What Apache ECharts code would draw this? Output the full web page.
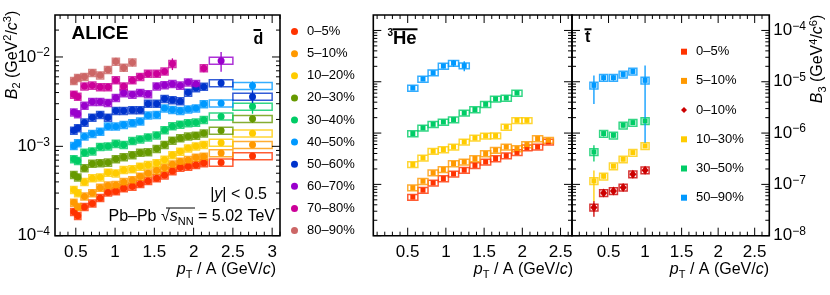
<!DOCTYPE html>
<html><head><meta charset="utf-8">
<script src="https://cdn.jsdelivr.net/npm/echarts@6/dist/echarts.min.js"></script>
<style>html,body{margin:0;padding:0;background:#fff}#c{width:830px;height:295px}</style>
</head><body><div id="c"></div>
<script>
// ---------------- DATA ----------------
// deuteron B2 vs pT/A (left panel)
const dCentrality = ['0–5%','5–10%','10–20%','20–30%','30–40%','40–50%','50–60%','60–70%','70–80%','80–90%'];
const dPt = [0.475,0.525,0.61,0.71,0.81,0.91,1.01,1.11,1.22,1.32,1.42,1.53,1.63,1.73,1.83,1.93,2.03,2.13,2.35,2.75];
const dPtHalfWidth = [0.04,0.04,0.045,0.045,0.045,0.045,0.045,0.045,0.045,0.045,0.045,0.045,0.045,0.045,0.045,0.045,0.045,0.045,0.15,0.25];
const dB2_0_5   = [1.85e-4,1.67e-4,2.1e-4,2.3e-4,2.65e-4,3.05e-4,3.15e-4,3.4e-4,3.55e-4,3.8e-4,4.1e-4,4.4e-4,4.75e-4,5.3e-4,5.8e-4,5.95e-4,6.2e-4,6.5e-4,6.6e-4,7.8e-4];
const dB2_5_10  = [2.35e-4,2.1e-4,2.75e-4,3.0e-4,3.45e-4,3.65e-4,3.7e-4,4.0e-4,4.2e-4,4.6e-4,5.0e-4,5.35e-4,5.75e-4,6.3e-4,6.75e-4,7.05e-4,7.5e-4,7.7e-4,8.4e-4,1.04e-3];
const dB2_10_20 = [3.26e-4,3.0e-4,4.0e-4,4.4e-4,4.5e-4,5.1e-4,5.0e-4,5.45e-4,5.55e-4,5.95e-4,6.2e-4,6.5e-4,7.1e-4,8.0e-4,8.75e-4,9.5e-4,1.0e-3,1.04e-3,1.1e-3,1.4e-3];
const dB2_20_30 = [4.8e-4,4.5e-4,5.7e-4,6.4e-4,6.5e-4,6.6e-4,7.2e-4,7.6e-4,8.0e-4,8.5e-4,8.6e-4,9.4e-4,1.04e-3,1.16e-3,1.235e-3,1.29e-3,1.32e-3,1.4e-3,1.5e-3,2.03e-3];
const dB2_30_40 = [7.2e-4,6.9e-4,8.5e-4,8.8e-4,9.9e-4,1.0e-3,1.07e-3,1.04e-3,1.15e-3,1.2e-3,1.26e-3,1.33e-3,1.52e-3,1.68e-3,1.75e-3,1.82e-3,1.85e-3,1.98e-3,2.16e-3,2.79e-3];
const dB2_40_50 = [1.01e-3,1.09e-3,1.29e-3,1.38e-3,1.46e-3,1.67e-3,1.67e-3,1.74e-3,1.82e-3,1.9e-3,2.22e-3,2.25e-3,2.66e-3,2.56e-3,2.5e-3,2.6e-3,2.66e-3,2.97e-3,3.03e-3,4.76e-3];
const dB2_50_60 = [1.5e-3,1.6e-3,1.85e-3,2.1e-3,2.25e-3,2.1e-3,2.5e-3,2.5e-3,2.55e-3,2.55e-3,3.0e-3,3.0e-3,3.4e-3,3.3e-3,3.2e-3,4.0e-3,4.5e-3,4.65e-3,5.1e-3,3.6e-3];
const dB2_60_70 = [2.4e-3,2.3e-3,2.85e-3,3.15e-3,3.15e-3,3.07e-3,3.5e-3,3.95e-3,3.8e-3,3.97e-3,3.85e-3,4.7e-3,4.85e-3,5.0e-3,4.8e-3,5.2e-3,5.0e-3,null,9.1e-3,null];
const dB2_70_80 = [3.8e-3,3.6e-3,4.7e-3,4.8e-3,4.6e-3,4.6e-3,5.5e-3,4.7e-3,5.5e-3,6.0e-3,6.5e-3,6.5e-3,6.9e-3,8.4e-3,null,null,null,7.5e-3,null,null];
const dB2_80_90 = [5.4e-3,5.85e-3,6.0e-3,6.65e-3,6.25e-3,7.2e-3,8.9e-3,7.6e-3,8.7e-3];
// relative statistical uncertainties
const dStat_0_5   = [.03,.03,.02,.02,.02,.02,.02,.02,.02,.02,.02,.02,.02,.02,.02,.02,.02,.03,.03,.05];
const dStat_5_10  = [.03,.03,.02,.02,.02,.02,.02,.02,.02,.02,.02,.02,.02,.02,.02,.02,.02,.03,.03,.05];
const dStat_10_20 = [.03,.03,.02,.02,.02,.02,.02,.02,.02,.02,.02,.02,.02,.02,.02,.02,.03,.03,.04,.05];
const dStat_20_30 = [.03,.03,.02,.02,.02,.02,.02,.02,.02,.02,.02,.02,.02,.02,.02,.03,.03,.03,.04,.10];
const dStat_30_40 = [.03,.03,.02,.02,.02,.02,.02,.02,.02,.02,.02,.02,.03,.03,.03,.03,.03,.04,.06,.17];
const dStat_40_50 = [.03,.03,.02,.02,.02,.02,.02,.02,.02,.03,.03,.03,.03,.03,.03,.03,.03,.04,.05,.12];
const dStat_50_60 = [.03,.03,.03,.03,.03,.03,.03,.03,.03,.03,.03,.03,.03,.03,.04,.04,.05,.05,.10,.17];
const dStat_60_70 = [.03,.03,.03,.03,.03,.03,.03,.03,.03,.03,.03,.04,.04,.04,.05,.06,.06,null,.25,null];
const dStat_70_80 = [.04,.04,.04,.04,.04,.04,.04,.04,.04,.04,.05,.05,.07,.15,null,null,null,.10,null,null];
const dStat_80_90 = [.05,.05,.05,.06,.06,.08,.10,.10,.10];
const dSystRel = 0.09;

// 3He-bar B3 (middle panel)
const heCentrality = ['0–5%','5–10%','10–30%','30–50%','50–90%'];
const hePt = [0.567,0.7,0.833,0.967,1.1,1.24,1.38,1.52,1.65,1.79,1.93,2.06,2.2,2.34];
const heBinHalfWidth = 0.066;
const heB3_0_5   = [5.64e-8,7.71e-8,1.07e-7,1.30e-7,1.60e-7,1.89e-7,2.34e-7,2.74e-7,3.19e-7,3.62e-7,4.19e-7,5.18e-7,5.36e-7,6.71e-7];
const heB3_5_10  = [8.63e-8,1.15e-7,1.69e-7,1.95e-7,2.55e-7,2.74e-7,3.19e-7,3.99e-7,4.63e-7,5.36e-7,4.99e-7,5.97e-7,7.82e-7,7.24e-7];
const heB3_10_30 = [2.44e-7,3.28e-7,4.42e-7,4.78e-7,5.36e-7,6.71e-7,8.03e-7,8.78e-7,8.9e-7,1.31e-6,1.77e-6,1.77e-6];
const heB3_30_50 = [9.78e-7,1.26e-6,1.48e-6,1.64e-6,1.83e-6,2.46e-6,2.87e-6,3.63e-6,4.61e-6,4.82e-6,6.03e-6];
const heB3_50_90 = [7.54e-6,1.13e-5,1.5e-5,2.02e-5,2.31e-5,2.06e-5];
const heStat_0_5   = [.03,.03,.03,.03,.03,.03,.03,.03,.03,.03,.03,.04,.05,.08];
const heStat_5_10  = [.03,.03,.03,.03,.03,.03,.03,.03,.03,.03,.03,.04,.05,.12];
const heStat_10_30 = [.03,.03,.03,.03,.03,.03,.03,.03,.03,.03,.06,.10];
const heStat_30_50 = [.03,.03,.03,.03,.03,.03,.03,.03,.03,.03,.06];
const heStat_50_90 = [.04,.05,.06,.10,.15,.22];
const heSystRel = 0.13;

// triton-bar B3 (right panel)
const tPt = [0.3,0.433,0.567,0.7,0.833,1.0];
const tBinHalfWidth = 0.055;
const tB3_0_10  = [3.55e-8,6.83e-8,7.47e-8,8.71e-8,1.58e-7,1.89e-7];
const tB3_10_30 = [1.17e-7,1.44e-7,2.26e-7,3.09e-7,4.17e-7,5.61e-7];
const tB3_30_50 = [4.29e-7,9.78e-7,9.06e-7,1.42e-6,1.60e-6,1.72e-6];
const tB3_50_90 = [8.5e-6,1.2e-5,1.2e-5,1.39e-5,1.59e-5,1.065e-5];
const tStat_0_10  = [1.2e-8,7e-9,7e-9,7e-9,1.5e-8,1.5e-8];
const tStat_10_30 = [7e-8,1.5e-8,2e-8,2.5e-8,3e-8,4e-8];
const tStat_30_50 = [1.5e-7,1.2e-7,1e-7,1.3e-7,1.5e-7,1.5e-7];
const tStat_50_90 = [4.8e-6,1.6e-6,1.5e-6,1.6e-6,1.8e-6,1.0e-5];
const tSystRel = 0.15;

// axis ticks
const dTickX = [0.5,1,1.5,2,2.5,3];
const heTickX = [0.5,1,1.5,2,2.5];
const tTickX = [0.5,1,1.5,2,2.5];

// ---------------- STYLE ----------------
const FONT = "'Liberation Sans', Arial, Helvetica, sans-serif";
const dColors = ['#ff3300','#ff9900','#ffcc00','#669900','#00cc66','#0099ff','#0033cc','#9900cc','#cc0099','#cc6666'];
const heColors = ['#ff3300','#ff9900','#ffcc00','#00cc66','#0099ff'];
const tColors = ['#cc0000','#ffcc00','#00cc66','#0099ff'];
const tCentrality = ['0–10%','10–30%','30–50%','50–90%'];

const dVals = [dB2_0_5,dB2_5_10,dB2_10_20,dB2_20_30,dB2_30_40,dB2_40_50,dB2_50_60,dB2_60_70,dB2_70_80,dB2_80_90];
const dStats = [dStat_0_5,dStat_5_10,dStat_10_20,dStat_20_30,dStat_30_40,dStat_40_50,dStat_50_60,dStat_60_70,dStat_70_80,dStat_80_90];
const heVals = [heB3_0_5,heB3_5_10,heB3_10_30,heB3_30_50,heB3_50_90];
const heStats = [heStat_0_5,heStat_5_10,heStat_10_30,heStat_30_50,heStat_50_90];
const tVals = [tB3_0_10,tB3_10_30,tB3_30_50,tB3_50_90];
const tStats = [tStat_0_10,tStat_10_30,tStat_30_50,tStat_50_90];

function boxSeries(gi, pts, color, sys) {
  return {
    type: 'custom', xAxisIndex: gi, yAxisIndex: gi, silent: true, clip: false, z: 3,
    data: pts,
    renderItem: function (params, api) {
      const x = api.value(0), y = api.value(1), hw = api.value(2), e = api.value(3);
      const cs = params.coordSys;
      const a = api.coord([x - hw, y * (1 + sys)]);
      const b = api.coord([x + hw, y * (1 - sys)]);
      const c = api.coord([x, y]);
      const yt = api.coord([x, y + e])[1];
      const yb = (y - e > 0) ? api.coord([x, y - e])[1] : cs.y + cs.height;
      return { type: 'group', children: [
        { type: 'rect', shape: { x: a[0], y: a[1], width: b[0] - a[0], height: b[1] - a[1] },
          style: { fill: 'none', stroke: color, lineWidth: 1.5, opacity: 0.8 } },
        { type: 'line', shape: { x1: c[0], y1: yt, x2: c[0], y2: yb },
          style: { stroke: color, lineWidth: 1.3 } }
      ]};
    }
  };
}

function tickSeries(gi, xMaj, xLo, xHi, yLo, yHi) {
  const xMin = [];
  for (let k = Math.ceil(xLo * 10 + 1e-6); k <= Math.floor(xHi * 10 + 1e-6); k++) {
    const v = k / 10;
    if (!xMaj.some(m => Math.abs(m - v) < 1e-6)) xMin.push(v);
  }
  const yMaj = [], yMin = [];
  for (let e = Math.floor(Math.log10(yLo)); e <= Math.ceil(Math.log10(yHi)); e++) {
    const d = Math.pow(10, e);
    if (d >= yLo * 0.999 && d <= yHi * 1.001) yMaj.push(d);
    for (let k = 2; k <= 9; k++) { const v = k * d; if (v > yLo * 1.001 && v < yHi * 0.999) yMin.push(v); }
  }
  return {
    type: 'custom', xAxisIndex: gi, yAxisIndex: gi, silent: true, clip: false, z: 10,
    data: [[xLo, yLo]],
    renderItem: function (params, api) {
      const cs = params.coordSys, ch = [];
      const L = (x1, y1, x2, y2) => ch.push({ type: 'line', shape: { x1, y1, x2, y2 }, style: { stroke: '#000', lineWidth: 1 } });
      const b = cs.y + cs.height, t = cs.y, l = cs.x, r = cs.x + cs.width;
      xMaj.forEach(v => { const p = api.coord([v, yLo])[0]; L(p, b, p, b - 8); L(p, t, p, t + 8); });
      xMin.forEach(v => { const p = api.coord([v, yLo])[0]; L(p, b, p, b - 4); L(p, t, p, t + 4); });
      yMaj.forEach(v => { const p = api.coord([xLo, v])[1]; L(l, p, l + 8, p); L(r, p, r - 8, p); });
      yMin.forEach(v => { const p = api.coord([xLo, v])[1]; L(l, p, l + 4, p); L(r, p, r - 4, p); });
      return { type: 'group', children: ch };
    }
  };
}

function powLabel(v) {
  const e = Math.log10(v), r = Math.round(e);
  if (Math.abs(e - r) > 1e-6) return '';
  return '{b|10}{e|' + (r < 0 ? '−' : '') + Math.abs(r) + '}';
}
const powRich = {
  b: { fontSize: 17, fontFamily: FONT, color: '#000', lineHeight: 20 },
  e: { fontSize: 12, fontFamily: FONT, color: '#000', lineHeight: 10, verticalAlign: 'top' }
};

const series = [];
const grids = [
  { left: 55, top: 15, width: 225, height: 220.7 },
  { left: 373.3, top: 15, width: 198.7, height: 220.7 },
  { left: 572, top: 15, width: 197.3, height: 220.7 }
].map(g => Object.assign(g, { show: true, borderColor: '#000', borderWidth: 1.6, backgroundColor: 'transparent', outerBoundsMode: 'none', containLabel: false }));

// deuteron
dVals.forEach((vals, s) => {
  const pts = [], sc = [];
  dPt.forEach((x, i) => {
    const v = vals[i];
    if (v == null) return;
    pts.push([x, v, dPtHalfWidth[i], v * (dStats[s][i] || 0.03)]);
    sc.push([x, v]);
  });
  series.push(boxSeries(0, pts, dColors[s], dSystRel));
  series.push({ type: 'scatter', name: 'd|' + dCentrality[s], xAxisIndex: 0, yAxisIndex: 0, symbol: 'circle', symbolSize: 7,
    itemStyle: { color: dColors[s], opacity: 1 }, data: sc, z: 5, emphasis: { disabled: true } });
});
// helium
heVals.forEach((vals, s) => {
  const pts = [], sc = [];
  hePt.forEach((x, i) => {
    const v = vals[i];
    if (v == null) return;
    pts.push([x, v, heBinHalfWidth, v * heStats[s][i]]);
    sc.push([x, v]);
  });
  series.push(boxSeries(1, pts, heColors[s], heSystRel));
  series.push({ type: 'scatter', name: 'He|' + heCentrality[s], xAxisIndex: 1, yAxisIndex: 1, symbol: 'rect', symbolSize: 5,
    itemStyle: { color: heColors[s], opacity: 1 }, data: sc, z: 5, emphasis: { disabled: true } });
});
// triton
tVals.forEach((vals, s) => {
  const pts = [], sc = [];
  tPt.forEach((x, i) => {
    const v = vals[i];
    pts.push([x, v, tBinHalfWidth, tStats[s][i]]);
    sc.push([x, v]);
  });
  series.push(boxSeries(2, pts, tColors[s], tSystRel));
  series.push({ type: 'scatter', name: 't|' + tCentrality[s], xAxisIndex: 2, yAxisIndex: 2,
    symbol: s === 0 ? 'diamond' : 'rect', symbolSize: s === 0 ? [7, 9] : 5,
    itemStyle: { color: tColors[s], opacity: 1 }, data: sc, z: 5, emphasis: { disabled: true } });
});
series.push(tickSeries(0, dTickX, 0.235, 3.1, 1e-4, 0.0295));
series.push(tickSeries(1, heTickX, 0.05, 2.65, 1e-8, 2e-4));
series.push(tickSeries(2, tTickX, 0, 2.7, 1e-8, 2e-4));

const xLabel = (vals) => ({ customValues: vals, color: '#000', fontFamily: FONT, fontSize: 17, margin: 8 });
const hidden = { axisLine: { show: false }, axisTick: { show: false }, splitLine: { show: false }, minorTick: { show: false } };

const base = { fontFamily: FONT, color: '#000' };
const titleRich = {
  n: Object.assign({ fontSize: 16, lineHeight: 20 }, base),
  i: Object.assign({ fontSize: 16, lineHeight: 20, fontStyle: 'italic' }, base),
  s: Object.assign({ fontSize: 11, lineHeight: 10, verticalAlign: 'bottom' }, base),
  p: Object.assign({ fontSize: 11, lineHeight: 10, verticalAlign: 'top' }, base),
  r: Object.assign({ fontSize: 16, lineHeight: 20 }, base)
};
function T(x, y, text, o) {
  o = o || {};
  return { type: 'text', x: x, y: y, rotation: o.rot || 0, silent: true, z: 20,
    style: { text: text, fill: '#000', font: o.font || ('15px ' + FONT), rich: o.rich,
      align: o.align || 'left', textAlign: o.align || 'left', verticalAlign: 'middle', textVerticalAlign: 'middle' } };
}
function Ln(x1, y1, x2, y2, w) {
  return { type: 'line', silent: true, z: 20, shape: { x1, y1, x2, y2 }, style: { stroke: '#000', lineWidth: w || 1.5 } };
}
const xTitle = '{i|p}{s|T}{n| / A (GeV/}{i|c}{n|)}';

const option = {
  animation: false,
  backgroundColor: '#fff',
  grid: grids,
  xAxis: [
    Object.assign({ gridIndex: 0, type: 'value', min: 0.235, max: 3.1, axisLabel: xLabel(dTickX) }, hidden),
    Object.assign({ gridIndex: 1, type: 'value', min: 0.05, max: 2.65, axisLabel: xLabel(heTickX) }, hidden),
    Object.assign({ gridIndex: 2, type: 'value', min: 0, max: 2.7, axisLabel: xLabel(tTickX) }, hidden)
  ],
  yAxis: [
    Object.assign({ gridIndex: 0, type: 'log', logBase: 10, min: 1e-4, max: 0.0295,
      axisLabel: { formatter: powLabel, rich: powRich, margin: 5, showMaxLabel: false } }, hidden),
    Object.assign({ gridIndex: 1, type: 'log', logBase: 10, min: 1e-8, max: 2e-4, axisLabel: { show: false } }, hidden),
    Object.assign({ gridIndex: 2, type: 'log', logBase: 10, min: 1e-8, max: 2e-4, position: 'right',
      axisLabel: { formatter: powLabel, rich: powRich, margin: 4, showMaxLabel: false } }, hidden)
  ],
  legend: [
    { orient: 'vertical', left: 286, top: 19.6, itemWidth: 7, itemHeight: 7, itemGap: 8.1, selectedMode: false,
      data: dCentrality.map(n => 'd|' + n), formatter: n => n.split('|')[1],
      textStyle: { fontSize: 13, fontFamily: FONT, color: '#000', lineHeight: 14, padding: [0, 0, 0, 4] } },
    { orient: 'vertical', left: 676, top: 39.7, itemWidth: 6, itemHeight: 6, itemGap: 15.2, selectedMode: false,
      data: ['He|0–5%', 'He|5–10%', 't|0–10%', 'He|10–30%', 'He|30–50%', 'He|50–90%'], formatter: n => n.split('|')[1],
      textStyle: { fontSize: 13, fontFamily: FONT, color: '#000', lineHeight: 14, padding: [0, 0, 0, 4] } }
  ],
  series: series,
  graphic: [
    T(71.5, 34, 'ALICE', { font: 'bold 19px ' + FONT }),
    T(253.5, 39.5, 'd', { font: 'bold 16px ' + FONT }), Ln(253.5, 30, 261, 30, 2),
    T(387.5, 33, '3', { font: 'bold 10px ' + FONT }),
    T(393, 38.5, 'He', { font: 'bold 18.5px ' + FONT }), Ln(392.5, 29.3, 417.5, 29.3, 2),
    T(585, 38, 't', { font: 'bold 16px ' + FONT }), Ln(584.5, 29.3, 591.5, 29.3, 2),
    T(267, 195, '{n||}{i|y}{n|| < 0.5}', { rich: titleRich, align: 'right' }),
    T(275, 217, '{n|Pb–Pb }{r|√}{i|s}{s|NN}{n| = 5.02 TeV}', { rich: titleRich, align: 'right' }),
    Ln(166, 208, 195, 208, 1),
    T(276, 270, xTitle, { rich: titleRich, align: 'right' }),
    T(573, 270, xTitle, { rich: titleRich, align: 'right' }),
    T(769, 270, xTitle, { rich: titleRich, align: 'right' }),
    T(12.7, 55, '{i|B}{s|2}{n| (GeV}{p|2}{n|/}{i|c}{p|3}{n|)}', { rich: titleRich, align: 'center', rot: Math.PI / 2 }),
    T(818, 59, '{i|B}{s|3}{n| (GeV}{p|4}{n|/}{i|c}{p|6}{n|)}', { rich: titleRich, align: 'center', rot: Math.PI / 2 })
  ]
};
const chart = echarts.init(document.getElementById('c'), null, { renderer: 'canvas' });
chart.setOption(option);
</script></body></html>
